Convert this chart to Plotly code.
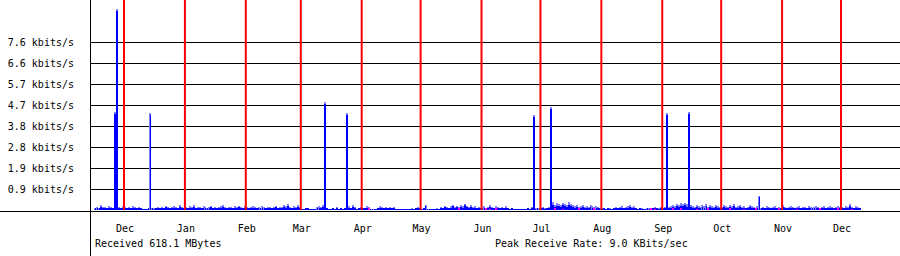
import pandas as pd
import plotly.graph_objects as go

# ---- data (kbits/s, one value per day) ----
peak_nov10 = [0.09,0.14,0.09,0.23,0.14,0.14,0.09,0.18,0.14,0.09,4.42,9.05,0.14,0.09,0.18]
avg_nov10  = [0.05,0.09,0.05,0.14,0.09,0.05,0.05,0.09,0.09,0.05,4.35,8.98,0.09,0.05,0.09]
peak_dec10 = [0.14,0.09,0.14,0.09,0.18,0.14,0.09,0.14,0.09,0.03,0.03,0.03,0.09,4.37,0.09,0.05,0.09,0.14,0.09,0.14,0.09,0.18,0.14,0.09,0.14,0.18,0.14,0.09,0.23,0.14,0.09]
avg_dec10  = [0.09,0.05,0.09,0.05,0.09,0.09,0.05,0.09,0.05,0.02,0.02,0.02,0.05,4.30,0.05,0.02,0.05,0.09,0.05,0.09,0.05,0.14,0.09,0.05,0.09,0.09,0.09,0.05,0.14,0.09,0.05]
peak_jan11 = [0.14,0.09,0.18,0.14,0.23,0.09,0.14,0.14,0.09,0.18,0.14,0.09,0.14,0.18,0.09,0.14,0.09,0.14,0.18,0.23,0.14,0.09,0.14,0.14,0.09,0.18,0.14,0.18,0.14,0.09,0.18]
avg_jan11  = [0.09,0.05,0.09,0.09,0.14,0.05,0.09,0.09,0.05,0.09,0.09,0.05,0.09,0.14,0.05,0.09,0.05,0.09,0.09,0.14,0.09,0.05,0.09,0.09,0.05,0.09,0.09,0.14,0.09,0.05,0.09]
peak_feb11 = [0.14,0.09,0.14,0.18,0.14,0.09,0.14,0.09,0.18,0.14,0.09,0.14,0.14,0.09,0.14,0.18,0.09,0.14,0.14,0.23,0.18,0.27,0.14,0.09,0.18,0.14,0.23,0.14]
avg_feb11  = [0.09,0.05,0.09,0.09,0.09,0.05,0.09,0.05,0.09,0.09,0.05,0.09,0.09,0.05,0.09,0.14,0.05,0.09,0.09,0.14,0.09,0.18,0.09,0.05,0.09,0.09,0.14,0.09]
peak_mar11 = [0.03,0.03,0.09,0.09,0.03,0.03,0.03,0.03,0.14,0.18,0.14,0.23,4.87,0.09,0.03,0.03,0.09,0.03,0.14,0.03,0.09,0.03,0.09,4.37,0.18,0.09,0.23,0.14,0.03,0.09,0.14]
avg_mar11  = [0.02,0.02,0.05,0.05,0.02,0.02,0.02,0.02,0.09,0.09,0.09,0.14,4.80,0.05,0.02,0.02,0.05,0.02,0.09,0.02,0.05,0.02,0.05,4.30,0.09,0.05,0.14,0.09,0.02,0.05,0.09]
peak_apr11 = [0.09,0.09,0.18,0.14,0.03,0.03,0.03,0.03,0.09,0.18,0.14,0.09,0.14,0.09,0.14,0.09,0.14,0.03,0.03,0.03,0.03,0.03,0.03,0.03,0.03,0.05,0.03,0.09,0.14,0.09]
avg_apr11  = [0.05,0.05,0.09,0.09,0.02,0.02,0.02,0.02,0.05,0.09,0.09,0.05,0.09,0.05,0.09,0.05,0.09,0.02,0.02,0.02,0.02,0.02,0.02,0.02,0.02,0.02,0.02,0.05,0.09,0.05]
peak_may11 = [0.03,0.09,0.23,0.03,0.03,0.03,0.03,0.03,0.05,0.03,0.14,0.09,0.18,0.14,0.09,0.18,0.23,0.14,0.18,0.14,0.23,0.18,0.27,0.18,0.14,0.23,0.14,0.18,0.09,0.14,0.09]
avg_may11  = [0.02,0.05,0.18,0.02,0.02,0.02,0.02,0.02,0.02,0.02,0.09,0.05,0.14,0.09,0.05,0.09,0.18,0.09,0.14,0.09,0.14,0.09,0.23,0.14,0.09,0.14,0.09,0.09,0.05,0.09,0.05]
peak_jun11 = [0.14,0.18,0.09,0.14,0.23,0.14,0.09,0.18,0.14,0.09,0.14,0.09,0.18,0.09,0.03,0.09,0.03,0.03,0.03,0.03,0.03,0.03,0.03,0.09,0.03,0.14,4.28,0.05,0.09,0.05]
avg_jun11  = [0.09,0.09,0.05,0.09,0.14,0.09,0.05,0.09,0.09,0.05,0.09,0.05,0.09,0.05,0.02,0.05,0.02,0.02,0.02,0.02,0.02,0.02,0.02,0.05,0.02,0.09,4.21,0.02,0.05,0.02]
peak_jul11 = [0.09,0.14,0.05,0.09,0.14,4.64,0.36,0.23,0.32,0.27,0.23,0.32,0.27,0.23,0.36,0.27,0.23,0.18,0.23,0.14,0.18,0.23,0.14,0.18,0.14,0.23,0.18,0.14,0.18,0.14,0.09]
avg_jul11  = [0.05,0.09,0.02,0.05,0.09,4.57,0.23,0.14,0.18,0.18,0.14,0.23,0.18,0.14,0.23,0.18,0.14,0.09,0.14,0.09,0.09,0.14,0.09,0.09,0.09,0.14,0.09,0.09,0.09,0.09,0.05]
peak_aug11 = [0.05,0.09,0.03,0.09,0.05,0.03,0.09,0.14,0.09,0.14,0.18,0.09,0.14,0.18,0.23,0.14,0.18,0.09,0.03,0.09,0.05,0.03,0.03,0.09,0.05,0.03,0.09,0.14,0.09,0.05,0.14]
avg_aug11  = [0.02,0.05,0.02,0.05,0.02,0.02,0.05,0.09,0.05,0.09,0.09,0.05,0.09,0.09,0.14,0.09,0.09,0.05,0.02,0.05,0.02,0.02,0.02,0.05,0.02,0.02,0.05,0.09,0.05,0.02,0.09]
peak_sep11 = [0.09,0.14,4.37,0.14,0.18,0.23,0.18,0.27,0.23,0.32,0.27,0.32,0.27,4.42,0.23,0.18,0.14,0.23,0.18,0.14,0.23,0.18,0.27,0.14,0.23,0.18,0.14,0.23,0.18,0.14]
avg_sep11  = [0.05,0.09,4.30,0.09,0.09,0.14,0.09,0.18,0.14,0.18,0.18,0.23,0.14,4.35,0.14,0.09,0.09,0.14,0.09,0.09,0.14,0.09,0.18,0.09,0.14,0.09,0.09,0.14,0.09,0.09]
peak_oct11 = [0.14,0.23,0.18,0.14,0.23,0.18,0.27,0.14,0.18,0.23,0.14,0.18,0.09,0.14,0.23,0.18,0.14,0.09,0.18,0.63,0.09,0.14,0.09,0.18,0.14,0.09,0.14,0.18,0.09,0.14,0.09]
avg_oct11  = [0.09,0.14,0.09,0.09,0.14,0.09,0.18,0.09,0.09,0.14,0.09,0.09,0.05,0.09,0.14,0.09,0.09,0.05,0.09,0.59,0.05,0.09,0.05,0.09,0.09,0.05,0.09,0.09,0.05,0.09,0.05]
peak_nov11 = [0.23,0.14,0.09,0.14,0.18,0.14,0.09,0.14,0.18,0.09,0.14,0.14,0.09,0.18,0.14,0.09,0.14,0.18,0.14,0.09,0.14,0.18,0.09,0.14,0.18,0.14,0.09,0.14,0.18,0.14]
avg_nov11  = [0.14,0.09,0.05,0.09,0.09,0.09,0.05,0.09,0.09,0.05,0.09,0.09,0.05,0.09,0.09,0.05,0.09,0.09,0.09,0.05,0.09,0.09,0.05,0.09,0.09,0.09,0.05,0.09,0.09,0.09]
peak_dec11 = [0.14,0.09,0.18,0.14,0.27,0.14,0.09,0.18,0.14,0.09]
avg_dec11  = [0.09,0.05,0.09,0.09,0.18,0.09,0.05,0.09,0.09,0.05]

mag_dates  = ["2011-04-04","2011-05-20","2011-06-03","2011-06-05","2011-06-08","2011-07-08","2011-07-12",
              "2011-07-20","2011-07-28","2011-08-26","2011-08-28","2011-09-06","2011-09-10","2011-09-18",
              "2011-09-24","2011-10-05","2011-10-12","2011-10-18","2011-10-30","2011-11-08","2011-11-20",
              "2011-11-29","2011-12-06"]
mag_values = [0.05,0.05,0.05,0.03,0.05,0.05,0.03,0.05,0.05,0.05,0.03,0.05,0.05,0.03,0.05,0.05,0.03,0.05,
              0.05,0.03,0.05,0.05,0.03]

month_starts = ["2010-12-01","2011-01-01","2011-02-01","2011-03-01","2011-04-01","2011-05-01","2011-06-01",
                "2011-07-01","2011-08-01","2011-09-01","2011-10-01","2011-11-01","2011-12-01"]
month_labels = ["Dec","Jan","Feb","Mar","Apr","May","Jun","Jul","Aug","Sep","Oct","Nov","Dec"]
y_tickvals = [0.947, 1.894, 2.841, 3.788, 4.735, 5.682, 6.629, 7.576]
y_ticktext = ["0.9 kbits/s","1.9 kbits/s","2.8 kbits/s","3.8 kbits/s","4.7 kbits/s","5.7 kbits/s",
              "6.6 kbits/s","7.6 kbits/s"]

peak = (peak_nov10 + peak_dec10 + peak_jan11 + peak_feb11 + peak_mar11 + peak_apr11 + peak_may11 +
        peak_jun11 + peak_jul11 + peak_aug11 + peak_sep11 + peak_oct11 + peak_nov11 + peak_dec11)
avg = (avg_nov10 + avg_dec10 + avg_jan11 + avg_feb11 + avg_mar11 + avg_apr11 + avg_may11 +
       avg_jun11 + avg_jul11 + avg_aug11 + avg_sep11 + avg_oct11 + avg_nov11 + avg_dec11)
days = pd.date_range("2010-11-16", "2011-12-10", freq="D")
assert len(days) == len(peak) == len(avg)
xd = days + pd.Timedelta(hours=12)
xm = pd.to_datetime(mag_dates) + pd.Timedelta(hours=12)

DAY_MS = 86400000
FONT = "DejaVu Sans Mono"

fig = go.Figure()
fig.add_trace(go.Bar(x=xd, y=peak, width=0.55 * DAY_MS, marker=dict(color="#8080ff", line=dict(width=0))))
fig.add_trace(go.Bar(x=xd, y=avg, width=0.45 * DAY_MS, marker=dict(color="#0000ff", line=dict(width=0))))
fig.add_trace(go.Bar(x=xm, y=mag_values, width=0.55 * DAY_MS, marker=dict(color="#ff00ff", line=dict(width=0))))

W, H = 900, 256
L, B = 91, 46
PW, PH = W - L, H - B
px_per_day = 1.9644
dec1 = pd.Timestamp("2010-12-01")
x0 = dec1 - pd.Timedelta(days=33 / px_per_day)
x1 = x0 + pd.Timedelta(days=PW / px_per_day)

shapes = []
for m in month_starts:
    shapes.append(dict(type="line", xref="x", yref="paper", x0=m, x1=m, y0=0, y1=1,
                       line=dict(color="#ff0000", width=2), layer="above"))
# baseline and y axis line
shapes.append(dict(type="line", xref="paper", yref="paper", x0=-L / PW, x1=1, y0=-1.5 / PH, y1=-1.5 / PH,
                   line=dict(color="black", width=1), layer="above"))
shapes.append(dict(type="line", xref="paper", yref="paper", x0=-0.5 / PW, x1=-0.5 / PW, y0=-B / PH, y1=1,
                   line=dict(color="black", width=1), layer="above"))

fig.update_layout(
    width=W, height=H, margin=dict(l=L, r=0, t=0, b=B, pad=0),
    barmode="overlay", bargap=0, showlegend=False,
    plot_bgcolor="white", paper_bgcolor="white",
    font=dict(family=FONT, size=10, color="black"),
    shapes=shapes,
    xaxis=dict(type="date", range=[x0, x1], showgrid=False, zeroline=False, showline=False,
               tickvals=pd.to_datetime(month_starts) + pd.Timedelta(hours=12), ticktext=month_labels,
               ticks="", ticklabelstandoff=11, tickfont=dict(family=FONT, size=10)),
    yaxis=dict(range=[0, PH / 21 * 0.947], showgrid=True, gridcolor="black", gridwidth=1,
               zeroline=False, showline=False, tickvals=y_tickvals, ticktext=y_ticktext,
               ticks="", ticklabelstandoff=16, tickfont=dict(family=FONT, size=10)),
    annotations=[
        dict(text="Received 618.1 MBytes", xref="paper", yref="paper", x=(93 - L) / PW, y=(PH - 236) / PH,
             xanchor="left", yanchor="top", showarrow=False, font=dict(family=FONT, size=10)),
        dict(text="Peak Receive Rate: 9.0 KBits/sec", xref="paper", yref="paper", x=(493 - L) / PW,
             y=(PH - 236) / PH, xanchor="left", yanchor="top", showarrow=False, font=dict(family=FONT, size=10)),
    ],
)

fig.write_html("out.html")
